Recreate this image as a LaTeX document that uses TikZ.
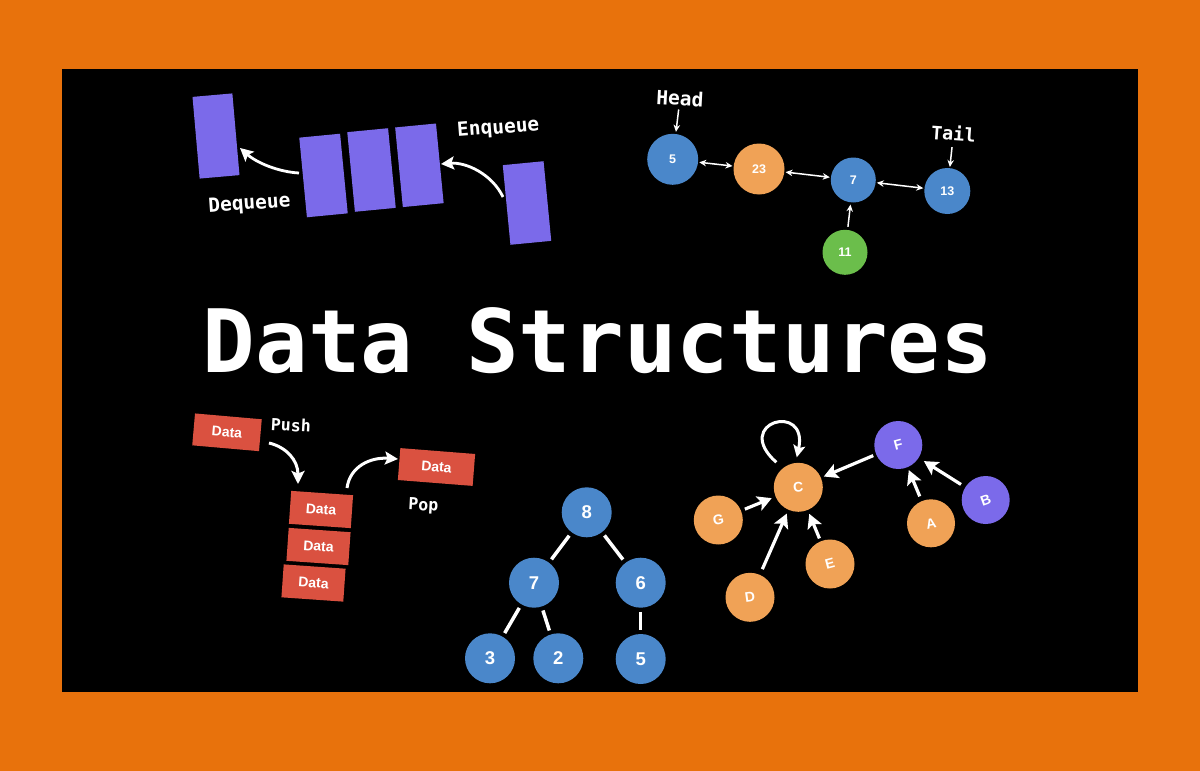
\documentclass[tikz,border=0pt]{standalone}
\usepackage{fontspec}
\usetikzlibrary{arrows.meta,calc}
\newfontfamily\monofnt{DejaVu Sans Mono}
\newfontfamily\labfnt{Liberation Sans}
\definecolor{bgorange}{HTML}{E8720C}
\definecolor{qpurple}{HTML}{7B6AEA}
\definecolor{dred}{HTML}{DA5140}
\definecolor{nblue}{HTML}{4A87CA}
\definecolor{norange}{HTML}{F0A256}
\definecolor{ngreen}{HTML}{6BBE4B}
\begin{document}
\begin{tikzpicture}[x=1pt,y=-1pt,
  qbox/.style={fill=qpurple, minimum width=41pt, minimum height=80pt, rotate=5.5, inner sep=0pt},
  databox/.style={fill=dred, text=white, font=\labfnt\bfseries\fontsize{14}{14}\selectfont, inner sep=0pt, minimum width=62pt, minimum height=33pt},
  cnode/.style={circle, text=white, inner sep=0pt},
  llnode/.style={cnode, minimum size=45pt, font=\labfnt\bfseries\fontsize{12.5}{13}\selectfont},
  trnode/.style={cnode, fill=nblue, minimum size=50pt, font=\labfnt\bfseries\fontsize{18.5}{19}\selectfont},
  grnode/.style={cnode, minimum size=49pt, font=\labfnt\bfseries\fontsize{14}{14}\selectfont},
  lbl/.style={text=white, inner sep=0pt, font=\monofnt\bfseries\fontsize{19.5}{20}\selectfont},
  smlbl/.style={text=white, inner sep=0pt, font=\monofnt\bfseries\fontsize{16.6}{17}\selectfont},
  llarrow/.style={white, line width=1.5pt, -{Stealth[length=7pt,width=6.5pt]}},
  llboth/.style={white, line width=1.5pt, {Stealth[length=7pt,width=6.5pt]}-{Stealth[length=7pt,width=6.5pt]}, shorten <=1pt, shorten >=1pt},
  curvearrow/.style={white, line width=2.8pt, -{Stealth[length=13pt,width=13pt,inset=2.5pt]}},
  tredge/.style={white, line width=3.5pt, shorten <=4pt, shorten >=4pt},
  garrow/.style={white, line width=3.2pt, -{Stealth[length=14pt,width=15pt,inset=3pt]}}
]
\useasboundingbox (0,0) rectangle (1200,771);
\fill[bgorange] (0,0) rectangle (1200,771);
\fill[black] (62,69) rectangle (1138,692);

% title
\node[text=white, inner sep=0pt, anchor=base, font=\monofnt\bfseries\fontsize{87.5}{90}\selectfont] (title) at (598,372) {Data Structures};

% queue
\node[qbox, minimum height=82pt, minimum width=40pt, rotate=-0.5] (q0) at (216,136) {};
\node[qbox] (q1) at (323.5,175.5) {};
\node[qbox] (q2) at (371.5,170) {};
\node[qbox] (q3) at (419.4,165.3) {};
\node[qbox] (q4) at (527,203) {};
\node[lbl, rotate=4.5] (enq) at (498.3,128.5) {Enqueue};
\node[lbl, rotate=4] (deq) at (249.5,204.5) {Dequeue};
\coordinate (deqS) at (299,173);
\coordinate (deqE) at (240,148);
\coordinate (enqS) at (503,197);
\coordinate (enqE) at (441,164);
\draw[curvearrow] (deqS) .. controls (279,172) and (257,163) .. (deqE);
\draw[curvearrow] (enqS) .. controls (492,174) and (466,162) .. (enqE);

% linked list
\node[llnode, fill=nblue, minimum size=51pt] (n5) at (672.7,159.3) {5};
\node[llnode, fill=norange, minimum size=51pt] (n23) at (759,169) {23};
\node[llnode, fill=nblue] (n7) at (853.3,180) {7};
\node[llnode, fill=nblue, minimum size=46pt] (n13) at (947.3,191) {13};
\node[llnode, fill=ngreen] (n11) at (845,252.3) {11};
\node[lbl, rotate=-3] (head) at (680,98.3) {Head};
\node[lbl, rotate=-4, font=\monofnt\bfseries\fontsize{18.5}{19}\selectfont] (tail) at (953.5,133.3) {Tail};
\draw[llboth] (n5) -- (n23);
\draw[llboth] (n23) -- (n7);
\draw[llboth] (n7) -- (n13);
\draw[llarrow, shorten <=3pt, shorten >=2pt] (n11) -- (n7);
\draw[llarrow, shorten <=3.5pt, shorten >=2pt] (head) -- (n5);
\draw[llarrow, shorten <=6pt, shorten >=1pt] (tail) -- (n13);

% stack
\node[databox, minimum width=67pt, minimum height=32pt, rotate=-5] (d0) at (227,432.3) {Data};
\node[databox, minimum width=75pt, minimum height=32pt, rotate=-4.5] (dpop) at (436.5,467) {Data};
\node[databox, rotate=-4] (s1) at (321,509.5) {Data};
\node[databox, rotate=-4] (s2) at (318.5,546.5) {Data};
\node[databox, rotate=-4] (s3) at (313.5,583) {Data};
\node[smlbl, rotate=-3] (push) at (291,425) {Push};
\node[smlbl, rotate=-3] (pop) at (423.3,506) {Pop};
\coordinate (pushS) at (269,443);
\coordinate (pushE) at (298,484);
\coordinate (popS) at (347,488);
\coordinate (popE) at (398,459);
\draw[curvearrow, line width=3pt] (pushS) .. controls (286,447) and (298,460) .. (pushE);
\draw[curvearrow, line width=3pt] (popS) .. controls (350,466) and (371,457) .. (popE);

% tree
\node[trnode] (t8) at (586.7,512.3) {8};
\node[trnode] (t7) at (534,582.7) {7};
\node[trnode] (t6) at (640.7,582.7) {6};
\node[trnode] (t3) at (490,658.3) {3};
\node[trnode] (t2) at (558.3,658.3) {2};
\node[trnode] (t5) at (640.7,659) {5};
\draw[tredge] (t8) -- (t7);
\draw[tredge] (t8) -- (t6);
\draw[tredge] (t7) -- (t3);
\draw[tredge] (t7) -- (t2);
\draw[tredge] (t6) -- (t5);

% graph
\node[grnode, fill=norange] (gC) at (798.3,487.3) {\rotatebox{5}{C}};
\node[grnode, fill=qpurple, minimum size=48pt] (gF) at (898.3,445) {\rotatebox{15}{F}};
\node[grnode, fill=qpurple, minimum size=48pt] (gB) at (985.7,500) {\rotatebox{20}{B}};
\node[grnode, fill=norange, minimum size=48pt] (gA) at (931,523.3) {\rotatebox{12}{A}};
\node[grnode, fill=norange] (gG) at (718.3,520) {\rotatebox{10}{G}};
\node[grnode, fill=norange] (gE) at (830,564) {\rotatebox{15}{E}};
\node[grnode, fill=norange] (gD) at (750,597.3) {\rotatebox{8}{D}};
\draw[garrow, shorten <=3pt, shorten >=3pt] (gF) -- (gC);
\draw[garrow, shorten <=4pt, shorten >=4pt] (gG) -- (gC);
\draw[garrow, shorten <=6pt, shorten >=4pt] (gD) -- (gC);
\draw[garrow, shorten <=3pt, shorten >=4pt] (gE) -- (gC);
\draw[garrow, shorten <=5pt, shorten >=3pt] (gA) -- (gF);
\draw[garrow, shorten <=5pt, shorten >=6pt] (gB) -- (gF);
\coordinate (loopS) at ([shift={(-22,-25)}]gC.center);
\coordinate (loopE) at ([shift={(-1.5,-30)}]gC.center);
\draw[garrow, line width=3pt, -{Stealth[length=12pt,width=12pt,inset=2.5pt]}] (loopS) .. controls +(-45,-40) and +(12,-56) .. (loopE);
\end{tikzpicture}
\end{document}
